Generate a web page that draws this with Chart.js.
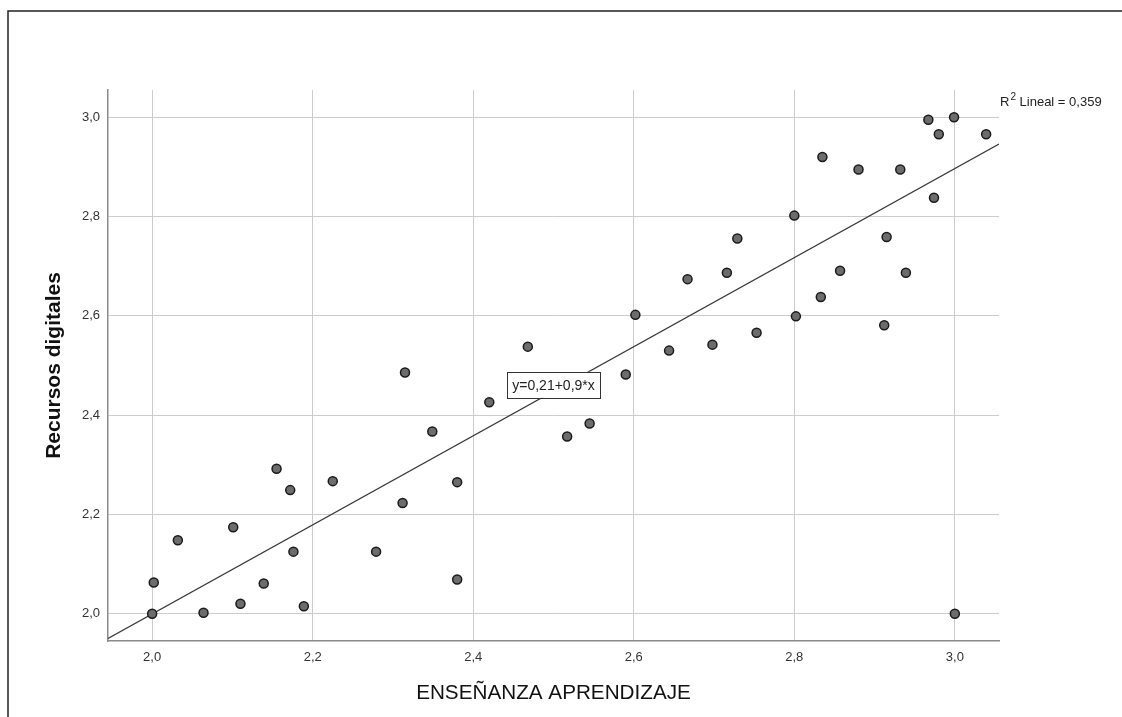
<!DOCTYPE html>
<html>
<head>
<meta charset="utf-8">
<title>Recursos digitales</title>
<style>
body { margin: 0; padding: 0; background: #fff; }
canvas { display: block; }
</style>
<script src="https://cdn.jsdelivr.net/npm/chart.js@4.4.0/dist/chart.umd.min.js"></script>
</head>
<body>
<canvas id="grafico" width="1122" height="717"></canvas>
<script>
// valores
var ensenanza = [2.002, 2.000, 2.032, 2.064, 2.101, 2.110, 2.139, 2.155, 2.172, 2.176,
	2.189, 2.225, 2.279, 2.315, 2.312, 2.349, 2.380, 2.380, 2.420, 2.468,
	2.517, 2.545, 2.590, 2.602, 2.644, 2.667, 2.698, 2.716, 2.729, 2.753,
	2.800, 2.802, 2.833, 2.835, 2.857, 2.880, 2.912, 2.915, 2.932, 2.939,
	2.967, 2.974, 2.980, 2.999, 3.000, 3.039];
var recursos = [2.063, 2.000, 2.148, 2.002, 2.174, 2.020, 2.061, 2.292, 2.249, 2.125,
	2.015, 2.267, 2.125, 2.486, 2.223, 2.367, 2.265, 2.069, 2.426, 2.538,
	2.357, 2.383, 2.482, 2.602, 2.530, 2.674, 2.542, 2.687, 2.756, 2.566,
	2.802, 2.599, 2.638, 2.920, 2.691, 2.895, 2.581, 2.759, 2.895, 2.687,
	2.995, 2.838, 2.966, 3.000, 2.000, 2.966];
var xTicks = [2.0, 2.2, 2.4, 2.6, 2.8, 3.0];
var yTicks = [2.0, 2.2, 2.4, 2.6, 2.8, 3.0];
var ajusteX = [1.945, 3.055];
var ajusteY = [1.950, 2.946];
var ecuacion = 'y=0,21+0,9*x';
var ecuacionEn = [2.5, 2.461];
var r2Texto = ' Lineal = 0,359';

Chart.defaults.font.family = '"Liberation Sans", Arial, sans-serif';
Chart.defaults.color = '#333';

function coma(v) { return v.toFixed(1).replace('.', ','); }

var puntos = ensenanza.map(function(x, i) { return {x: x, y: recursos[i]}; });
var linea = ajusteX.map(function(x, i) { return {x: x, y: ajusteY[i]}; });

var extras = {
	id: 'extras',
	afterDatasetsDraw: function(chart) {
		var c = chart.ctx, sx = chart.scales.x, sy = chart.scales.y, a = chart.chartArea;
		c.save();
		// recuadro de la ecuacion
		c.font = '14px "Liberation Sans", Arial, sans-serif';
		var w = c.measureText(ecuacion).width + 10, h = 26;
		var px = sx.getPixelForValue(ecuacionEn[0]), py = sy.getPixelForValue(ecuacionEn[1]);
		c.fillStyle = '#fff';
		c.fillRect(px - w / 2, py - h / 2, w, h);
		c.strokeStyle = '#333';
		c.lineWidth = 1;
		c.strokeRect(Math.round(px - w / 2) + 0.5, Math.round(py - h / 2) + 0.5, Math.round(w), h);
		c.fillStyle = '#222';
		c.textAlign = 'center';
		c.textBaseline = 'middle';
		c.fillText(ecuacion, px, py + 1);
		// R2
		c.textAlign = 'left';
		c.font = '13px "Liberation Sans", Arial, sans-serif';
		var rx = a.right + 1, ry = 102;
		c.fillText('R', rx, ry);
		var rw = c.measureText('R').width;
		c.font = '10px "Liberation Sans", Arial, sans-serif';
		c.fillText('2', rx + rw + 1, ry - 5);
		var dw = c.measureText('2').width;
		c.font = '13px "Liberation Sans", Arial, sans-serif';
		c.fillText(r2Texto, rx + rw + dw + 1, ry);
		// marco exterior
		c.strokeStyle = '#222';
		c.lineWidth = 1.5;
		c.beginPath();
		c.moveTo(8, 717);
		c.lineTo(8, 11);
		c.lineTo(1122, 11);
		c.stroke();
		c.restore();
	}
};

new Chart(document.getElementById('grafico'), {
	type: 'scatter',
	data: {
		datasets: [{
			data: puntos,
			pointRadius: 4.5,
			pointBorderWidth: 1.5,
			pointBackgroundColor: '#6c6c6c',
			pointBorderColor: '#1a1a1a',
			order: 1
		}, {
			type: 'line',
			data: linea,
			borderColor: '#3a3a3a',
			borderWidth: 1.3,
			pointRadius: 0,
			fill: false,
			order: 2
		}]
	},
	options: {
		responsive: false,
		animation: false,
		layout: { padding: { top: 90, right: 123, left: 0, bottom: 0 } },
		plugins: {
			legend: { display: false },
			tooltip: { enabled: false }
		},
		scales: {
			x: {
				type: 'linear',
				min: 1.945,
				max: 3.055,
				afterBuildTicks: function(s) { s.ticks = xTicks.map(function(v) { return {value: v}; }); },
				afterFit: function(s) { s.height = 76; },
				grid: { color: '#cccccc', drawTicks: false },
				border: { color: '#8a8a8a', width: 1.5 },
				ticks: { padding: 9, font: { size: 13 }, color: '#333', callback: function(v) { return coma(v); } },
				title: { display: true, text: 'ENSEÑANZA APRENDIZAJE', color: '#111', font: { size: 20.7 }, padding: { bottom: 11 } }
			},
			y: {
				min: 1.945,
				max: 3.055,
				afterBuildTicks: function(s) { s.ticks = yTicks.map(function(v) { return {value: v}; }); },
				afterFit: function(s) { s.width = 108; },
				grid: { color: '#cccccc', drawTicks: false },
				border: { color: '#8a8a8a', width: 1.5 },
				ticks: { padding: 8, font: { size: 13 }, color: '#333', callback: function(v) { return coma(v); } },
				title: { display: true, text: 'Recursos digitales', color: '#111', font: { size: 21, weight: 'bold' }, padding: { top: 42 } }
			}
		}
	},
	plugins: [extras]
});
</script>
</body>
</html>
